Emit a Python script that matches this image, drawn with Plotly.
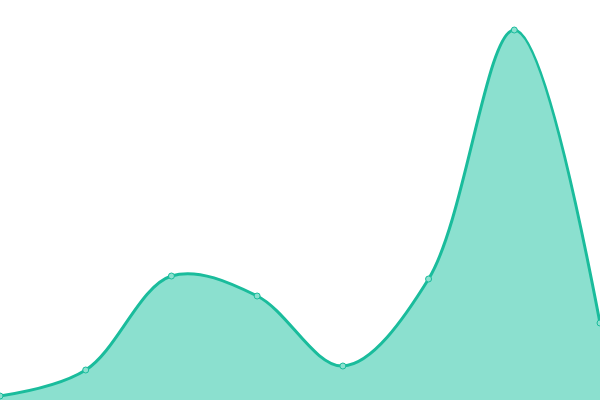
import plotly.graph_objects as go

x_vals = [0, 1, 2, 3, 4, 5, 6, 7]
y_vals = [4, 30, 124, 104, 34, 121, 370, 77]

fig = go.Figure()
fig.add_trace(go.Scatter(
    x=x_vals, y=y_vals,
    mode="lines+markers",
    line=dict(color="#1abc9c", width=3, shape="spline", smoothing=1),
    fill="tozeroy",
    fillcolor="#8be0cf",
    marker=dict(size=6, color="#8be0cf", line=dict(color="#1abc9c", width=1)),
    hoverinfo="x+y",
))
fig.update_layout(
    width=600, height=400,
    margin=dict(l=0, r=0, t=0, b=0),
    paper_bgcolor="white", plot_bgcolor="white",
    showlegend=False,
    xaxis=dict(range=[0, 7], visible=False, fixedrange=True),
    yaxis=dict(range=[0, 400], visible=False, fixedrange=True),
)
fig.write_html(
    "out.html",
    config={"displayModeBar": False},
    post_script="document.body.style.margin='0';document.body.style.overflow='hidden';",
)
